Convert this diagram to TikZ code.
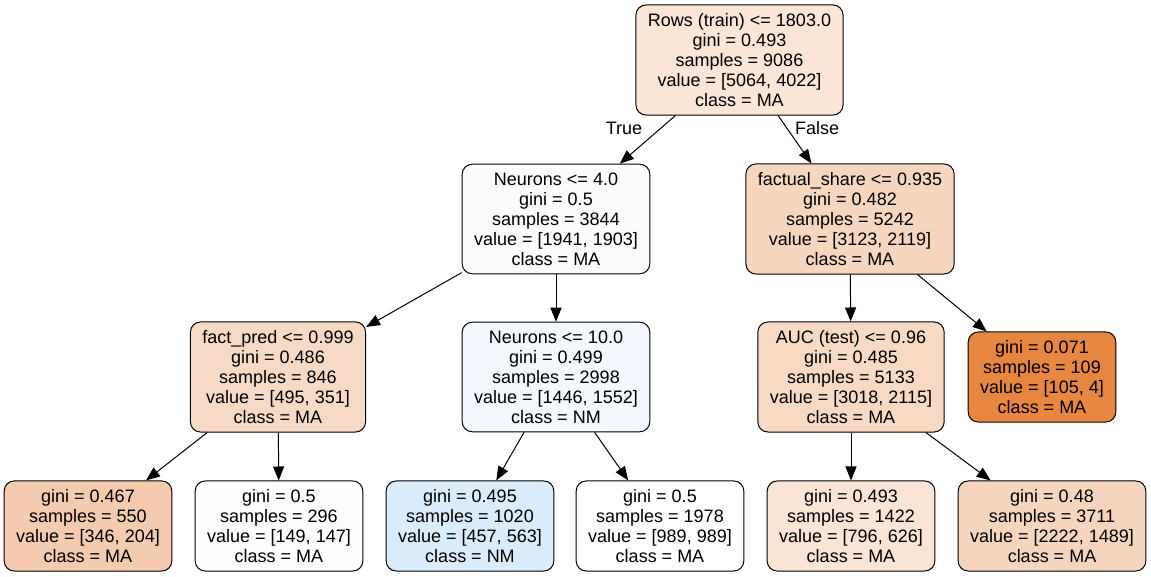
\documentclass[tikz,border=0pt]{standalone}
\usepackage{fontspec}
\setmainfont{Liberation Sans}
\usetikzlibrary{arrows.meta}
\definecolor{cRoot}{HTML}{FAE5D6}
\definecolor{cNeuA}{HTML}{FEFCFA}
\definecolor{cFact}{HTML}{F7D6BF}
\definecolor{cPred}{HTML}{F7DAC5}
\definecolor{cNeuB}{HTML}{F2F8FD}
\definecolor{cAuc}{HTML}{F7D9C4}
\definecolor{cPure}{HTML}{E68641}
\definecolor{cLa}{HTML}{F4CBAE}
\definecolor{cLb}{HTML}{FFFDFC}
\definecolor{cLc}{HTML}{DAECFA}
\definecolor{cLd}{HTML}{FFFFFF}
\definecolor{cLe}{HTML}{F9E4D5}
\definecolor{cLf}{HTML}{F6D5BE}

\begin{document}
\begin{tikzpicture}[x=0.5pt,y=-0.5pt,
  every node/.style={font=\fontsize{9}{10}\selectfont},
  tn/.style={draw=black,line width=0.5pt,rounded corners=5pt,align=center,inner xsep=6pt,inner ysep=4.2pt},
  ar/.style={-{Triangle[length=7pt,width=5.5pt]},line width=0.5pt,black}]
\fill[white] (0,0) rectangle (1151,577);
\useasboundingbox (0,0) rectangle (1151,577);
\node[tn,fill=cRoot] (root) at (739.5,60) {Rows (train) <= 1803.0\\gini = 0.493\\samples = 9086\\value = [5064, 4022]\\class = MA};
\node[tn,fill=cNeuA] (neuA) at (556,219) {Neurons <= 4.0\\gini = 0.5\\samples = 3844\\value = [1941, 1903]\\class = MA};
\node[tn,fill=cFact] (fact) at (850,219) {factual\_share <= 0.935\\gini = 0.482\\samples = 5242\\value = [3123, 2119]\\class = MA};
\node[tn,fill=cPred] (pred) at (278,377) {fact\_pred <= 0.999\\gini = 0.486\\samples = 846\\value = [495, 351]\\class = MA};
\node[tn,fill=cNeuB] (neuB) at (556,377) {Neurons <= 10.0\\gini = 0.499\\samples = 2998\\value = [1446, 1552]\\class = NM};
\node[tn,fill=cAuc] (auc) at (851,377) {AUC (test) <= 0.96\\gini = 0.485\\samples = 5133\\value = [3018, 2115]\\class = MA};
\node[tn,fill=cPure] (pure) at (1042,377) {gini = 0.071\\samples = 109\\value = [105, 4]\\class = MA};
\node[tn,fill=cLa] (la) at (88,526) {gini = 0.467\\samples = 550\\value = [346, 204]\\class = MA};
\node[tn,fill=cLb] (lb) at (279,526) {gini = 0.5\\samples = 296\\value = [149, 147]\\class = MA};
\node[tn,fill=cLc] (lc) at (470,526) {gini = 0.495\\samples = 1020\\value = [457, 563]\\class = NM};
\node[tn,fill=cLd] (ld) at (660,526) {gini = 0.5\\samples = 1978\\value = [989, 989]\\class = MA};
\node[tn,fill=cLe] (le) at (851,526) {gini = 0.493\\samples = 1422\\value = [796, 626]\\class = MA};
\node[tn,fill=cLf] (lf) at (1052,526) {gini = 0.48\\samples = 3711\\value = [2222, 1489]\\class = MA};
\node (true) at (624,128) {True};
\node (false) at (817,128) {False};
\draw[ar] (root) -- (neuA);
\draw[ar] (root) -- (fact);
\draw[ar] (neuA) -- (pred);
\draw[ar] (neuA) -- (neuB);
\draw[ar] (fact) -- (auc);
\draw[ar] (fact) -- (pure);
\draw[ar] (pred) -- (la);
\draw[ar] (pred) -- (lb);
\draw[ar] (neuB) -- (lc);
\draw[ar] (neuB) -- (ld);
\draw[ar] (auc) -- (le);
\draw[ar] (auc) -- (lf);
\end{tikzpicture}
\end{document}
